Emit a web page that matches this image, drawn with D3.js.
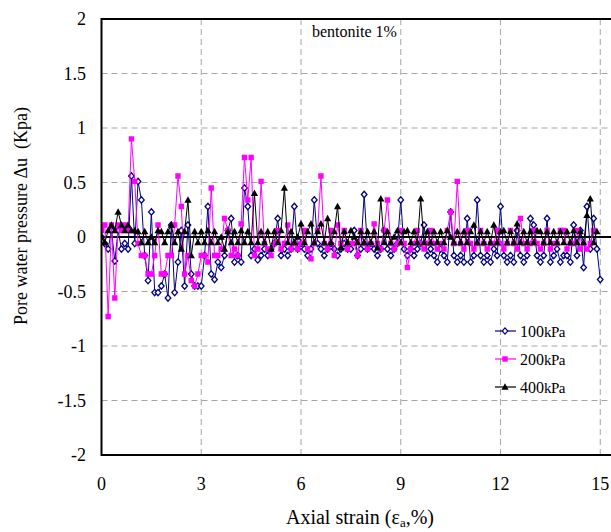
<!DOCTYPE html>
<html>
<head>
<meta charset="utf-8">
<script src="https://cdn.jsdelivr.net/npm/d3@7"></script>
<style>
body { margin: 0; background: #fff; }
svg text { font-family: "Liberation Serif", "Times New Roman", serif; fill: #000; }
</style>
</head>
<body>
<div id="chart"></div>
<script>
// readings are logged every 0.1 % of axial strain
var strainStep = 0.1;

var xTicks = [0, 3, 6, 9, 12, 15];
var yTicks = [2, 1.5, 1, 0.5, 0, -0.5, -1, -1.5, -2];
var seriesNames = ["100", "200", "400"];

// pore water pressure (kPa), 100 kPa confining
var pw100 = [
	0, -0.06, -0.11, 0.06, -0.22, 0.06, -0.11, -0.06, -0.11, 0.56,
	-0.06, 0.51, 0.34, -0.17, -0.4, 0.23, -0.51, -0.51, -0.45, -0.34,
	-0.56, 0.11, -0.51, -0.23, 0.06, -0.45, 0.11, -0.34, -0.45, -0.45,
	-0.45, -0.17, 0.28, -0.34, -0.39, -0.23, -0.28, -0.17, 0.06, 0.17,
	-0.23, -0.17, -0.23, 0.45, 0.28, -0.17, -0.11, -0.21, -0.17, -0.11,
	-0.17, -0.11, -0.06, 0.17, -0.17, -0.11, -0.17, -0.11, 0.28, -0.11,
	-0.06, -0.11, -0.17, -0.11, 0.34, -0.06, -0.11, -0.17, -0.11, -0.06,
	-0.11, -0.17, -0.11, -0.06, -0.11, -0.11, 0.06, -0.17, -0.11, 0.39,
	-0.11, -0.06, -0.11, -0.17, -0.11, 0.06, -0.11, -0.17, -0.11, -0.06,
	0.34, -0.11, -0.17, -0.11, -0.17, -0.11, -0.06, 0.11, -0.17, -0.11,
	-0.17, -0.23, -0.11, -0.17, -0.23, 0.23, -0.17, -0.23, -0.17, -0.23,
	0.17, -0.23, -0.17, 0.34, -0.17, -0.23, -0.17, -0.23, -0.11, -0.17,
	0.28, -0.17, -0.23, -0.17, -0.23, 0.06, -0.17, -0.23, -0.17, 0.17,
	0.11, -0.17, -0.23, -0.17, 0.17, -0.23, -0.17, -0.11, -0.23, -0.17,
	-0.17, -0.23, 0.11, -0.17, 0.06, -0.28, 0.28, -0.11, 0.17, -0.11,
	-0.39
];

// 200 kPa confining
var pw200 = [
	0.06, 0.11, -0.73, 0.11, -0.56, 0.11, 0.06, 0.11, 0.06, 0.9,
	0.51, -0.06, -0.17, -0.17, -0.34, -0.34, -0.17, 0.11, -0.34, -0.34,
	-0.17, -0.17, 0.11, 0.56, 0.28, -0.34, -0.17, -0.4, -0.45, -0.34,
	-0.17, -0.17, -0.23, 0.45, -0.17, -0.17, -0.11, 0.17, 0.06, -0.17,
	-0.11, -0.17, 0.12, 0.73, 0.34, 0.73, -0.17, -0.11, 0.51, -0.06,
	-0.11, -0.17, -0.06, 0.06, -0.11, -0.06, 0.11, -0.11, -0.06, -0.11,
	-0.06, 0.06, -0.11, -0.2, -0.06, 0.06, 0.56, -0.06, -0.11, 0.06,
	-0.17, 0.11, -0.06, 0.06, -0.11, -0.06, -0.06, -0.17, 0.06, -0.06,
	-0.11, -0.06, 0.12, -0.06, -0.11, 0.06, 0.34, -0.06, -0.11, -0.06,
	0.06, -0.06, -0.28, -0.11, -0.06, 0.06, -0.06, -0.11, -0.06, 0.06,
	-0.06, -0.11, -0.06, -0.11, 0.06, 0.23, -0.06, 0.51, -0.06, -0.11,
	0.06, -0.06, -0.11, -0.06, 0.06, -0.06, -0.11, -0.06, -0.06, 0.06,
	-0.06, -0.11, -0.06, 0.06, -0.06, -0.11, 0.17, -0.06, -0.11, -0.06,
	0.06, -0.06, -0.11, -0.06, 0.06, -0.11, -0.06, -0.06, 0.06, 0.06,
	-0.11, -0.06, -0.06, 0.06, -0.11, -0.06, -0.11, -0.06, 0.06
];

// 400 kPa confining
var pw400 = [
	0, -0.05, 0.06, 0.11, 0.06, 0.23, 0.11, 0.06, 0.11, 0.06,
	0.06, 0.05, -0.05, 0.05, -0.05, 0, -0.05, 0.06, 0.05, -0.05,
	0.05, 0.11, -0.05, 0.05, -0.11, 0.05, 0.34, -0.17, 0.05, -0.05,
	0.05, -0.05, 0.06, -0.05, 0.05, -0.05, 0, -0.11, 0.05, -0.05,
	0.05, -0.05, 0.06, -0.05, 0.05, -0.05, 0.4, -0.05, 0.05, -0.05,
	0.05, -0.11, 0.05, -0.05, 0.06, 0.45, -0.05, 0.05, -0.05, 0,
	0.12, -0.05, 0.05, 0.12, -0.05, 0.05, 0.12, -0.05, 0.17, -0.05,
	0.05, 0.28, -0.1, 0.05, -0.05, 0.06, 0, -0.05, 0.05, -0.05,
	0.05, -0.05, 0.05, -0.1, 0.35, -0.05, 0.05, -0.05, 0, 0.06,
	-0.05, 0.05, 0.06, -0.05, 0.05, -0.05, 0.35, -0.05, 0.05, -0.05,
	0.05, -0.05, 0.05, -0.05, 0.06, 0, -0.05, 0.05, -0.05, 0.05,
	-0.05, 0.05, 0.11, -0.05, 0.05, -0.05, 0.05, -0.05, 0.11, -0.05,
	0.05, 0.06, -0.05, 0.05, -0.05, 0.12, -0.05, 0.05, -0.05, 0.05,
	-0.05, 0.06, 0.05, -0.05, 0.05, -0.05, 0.05, -0.05, 0.05, -0.05,
	0.05, -0.05, 0.06, -0.05, 0.05, -0.05, 0.2, 0.35, -0.05, 0.05
];

var width = 611,
	height = 532,
	plotLeft = 101.5,
	plotTop = 19,
	plotBottom = 455;

var svg = d3.select("#chart").append("svg")
	.attr("width", width)
	.attr("height", height);

// plot box runs past the right edge of the picture
var x = d3.scaleLinear().domain([0, 15.5]).range([plotLeft, plotLeft + 15.5 * 33.25]);
var y = d3.scaleLinear().domain([-2, 2]).range([plotBottom, plotTop]);

// dashed grid
svg.append("g").selectAll("line")
	.data(xTicks.filter(function (d) { return d > 0; }))
	.enter().append("line")
	.attr("x1", function (d) { return x(d); })
	.attr("x2", function (d) { return x(d); })
	.attr("y1", plotTop).attr("y2", plotBottom)
	.attr("stroke", "#a6a6a6").attr("stroke-dasharray", "6,4");

svg.append("g").selectAll("line")
	.data(yTicks.filter(function (d) { return d > -2 && d < 2; }))
	.enter().append("line")
	.attr("x1", plotLeft).attr("x2", width)
	.attr("y1", function (d) { return y(d); })
	.attr("y2", function (d) { return y(d); })
	.attr("stroke", "#a6a6a6").attr("stroke-dasharray", "6,4");

// tick labels
svg.append("g").selectAll("text")
	.data(yTicks)
	.enter().append("text")
	.attr("x", 86)
	.attr("y", function (d) { return y(d) + 6; })
	.attr("text-anchor", "end")
	.style("font-size", "18px")
	.text(function (d) { return d; });

svg.append("g").selectAll("text")
	.data(xTicks)
	.enter().append("text")
	.attr("x", function (d) { return x(d); })
	.attr("y", 490)
	.attr("text-anchor", "middle")
	.style("font-size", "18px")
	.text(function (d) { return d; });

// axis titles
var xt = svg.append("text")
	.attr("x", 360).attr("y", 524)
	.attr("text-anchor", "middle")
	.style("font-size", "20px");
xt.append("tspan").text("Axial strain (\u03b5");
xt.append("tspan").attr("dy", 3).style("font-size", "13px").text("a");
xt.append("tspan").attr("dy", -3).text(",%)");

svg.append("text")
	.attr("transform", "translate(27,216) rotate(-90)")
	.attr("text-anchor", "middle")
	.style("font-size", "18px")
	.text("Pore water pressure \u0394u\u00a0 (Kpa)");

svg.append("text")
	.attr("x", 312).attr("y", 37)
	.style("font-size", "16px")
	.text("bentonite 1%");

// marker shapes
var markers = {
	"100": "M0,-3.2L2.8,0L0,3.2L-2.8,0Z",
	"200": "M-2.7,-2.7L2.7,-2.7L2.7,2.7L-2.7,2.7Z",
	"400": "M0,-3.8L3.6,2.7L-3.6,2.7Z"
};
var colors = { "100": "#000080", "200": "#ff00ff", "400": "#000000" };
var fills = { "100": "#ffffff", "200": "#ff00ff", "400": "#000000" };

var allData = [pw100, pw200, pw400].map(function (vals) {
	return vals.map(function (v, i) { return { x: Math.round(i * strainStep * 10) / 10, y: v }; });
});

var line = d3.line()
	.x(function (d) { return x(d.x); })
	.y(function (d) { return y(d.y); });

svg.append("clipPath").attr("id", "plotclip")
	.append("rect").attr("x", plotLeft).attr("y", plotTop)
	.attr("width", width - plotLeft).attr("height", plotBottom - plotTop);

var plot = svg.append("g").attr("clip-path", "url(#plotclip)");

// zero line
plot.append("line")
	.attr("x1", plotLeft).attr("x2", width)
	.attr("y1", y(0)).attr("y2", y(0))
	.attr("stroke", "#000").attr("stroke-width", 2);

seriesNames.forEach(function (name, k) {
	var data = allData[k];
	plot.append("path")
		.datum(data)
		.attr("d", line)
		.attr("fill", "none")
		.attr("stroke", colors[name])
		.attr("stroke-width", 1);
	plot.append("g").selectAll("path")
		.data(data)
		.enter().append("path")
		.attr("d", markers[name])
		.attr("transform", function (d) { return "translate(" + x(d.x) + "," + y(d.y) + ")"; })
		.attr("fill", fills[name])
		.attr("stroke", name == "100" ? colors[name] : "none")
		.attr("stroke-width", 1.3);
});

// frame: left, top and bottom edges
svg.append("path")
	.attr("d", "M" + width + "," + plotTop + "L" + plotLeft + "," + plotTop + "L" + plotLeft + "," + plotBottom + "L" + width + "," + plotBottom)
	.attr("fill", "none")
	.attr("stroke", "#000")
	.attr("stroke-width", 2);

// legend
var legendY = [331, 359, 387];
var legend = svg.append("g").selectAll("g")
	.data(seriesNames)
	.enter().append("g")
	.attr("transform", function (d, i) { return "translate(0," + legendY[i] + ")"; });

legend.append("line")
	.attr("x1", 495).attr("x2", 516)
	.attr("stroke", function (d) { return colors[d]; })
	.attr("stroke-width", 1.2);
legend.append("path")
	.attr("d", function (d) { return markers[d]; })
	.attr("transform", "translate(505,0)")
	.attr("fill", function (d) { return fills[d]; })
	.attr("stroke", function (d) { return d == "100" ? colors[d] : "none"; })
	.attr("stroke-width", 1.2);
var lt = legend.append("text")
	.attr("x", 520).attr("y", 6)
	.style("font-size", "16px");
lt.append("tspan").text(function (d) { return d; });
lt.append("tspan").style("font-size", "15px").attr("letter-spacing", "-0.5").text("kPa");
</script>
</body>
</html>
